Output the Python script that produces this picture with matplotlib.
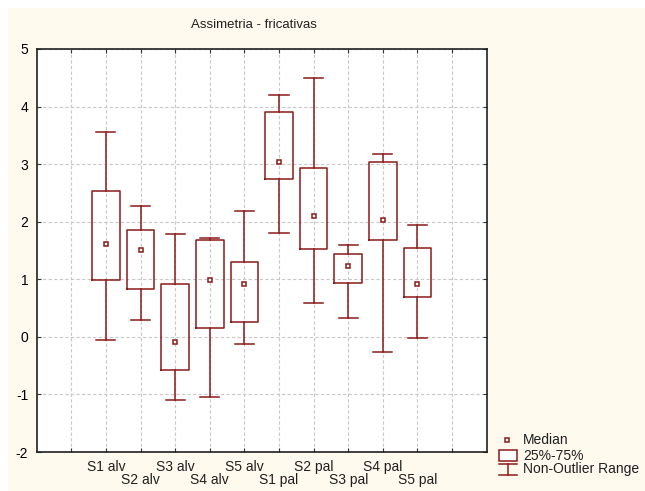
import matplotlib
matplotlib.use('Agg')
import matplotlib.pyplot as plt
from matplotlib.patches import Rectangle
from matplotlib.lines import Line2D

plt.rcParams['font.family'] = ['Liberation Sans', 'DejaVu Sans']
plt.rcParams['axes.unicode_minus'] = False

# values
labels = ['S1 alv', 'S2 alv', 'S3 alv', 'S4 alv', 'S5 alv',
          'S1 pal', 'S2 pal', 'S3 pal', 'S4 pal', 'S5 pal']
medians = [1.62, 1.51, -0.09, 0.99, 0.92, 3.03, 2.10, 1.23, 2.03, 0.92]
q1 = [0.98, 0.83, -0.58, 0.15, 0.25, 2.74, 1.52, 0.94, 1.68, 0.69]
q3 = [2.53, 1.86, 0.92, 1.69, 1.30, 3.91, 2.94, 1.44, 3.04, 1.54]
whis_lo = [-0.05, 0.29, -1.09, -1.04, -0.13, 1.80, 0.59, 0.33, -0.27, -0.02]
whis_hi = [3.56, 2.28, 1.78, 1.71, 2.19, 4.20, 4.50, 1.60, 3.18, 1.95]

RED = '#8B1A1A'
W, H = 645, 491

fig = plt.figure(figsize=(6.45, 4.91), dpi=100, facecolor='white')


def fx(px):
    return px / W


def fy(py):
    return 1 - py / H


# cream panel
fig.patches.append(Rectangle((fx(8), 0), 1 - fx(8), fy(8), transform=fig.transFigure,
                             facecolor='#FFF9EE', edgecolor='none', zorder=-10))

ax = fig.add_axes([fx(36.7), fy(452), fx(486.7) - fx(36.7), fy(49) - fy(452)])
ax.set_facecolor('white')

positions = list(range(2, 2 + len(labels)))
stats = []
for i in range(len(labels)):
    stats.append({'med': medians[i], 'q1': q1[i], 'q3': q3[i],
                  'whislo': whis_lo[i], 'whishi': whis_hi[i], 'fliers': []})

ax.bxp(stats, positions=positions, widths=0.8, capwidths=0.55, showfliers=False,
       boxprops=dict(color=RED, linewidth=1.1),
       whiskerprops=dict(color=RED, linewidth=1.1),
       capprops=dict(color=RED, linewidth=1.1),
       medianprops=dict(linewidth=0), manage_ticks=False, zorder=3)
ax.plot(positions, medians, linestyle='none', marker='s', markersize=3.5,
        markerfacecolor='white', markeredgecolor=RED, markeredgewidth=1.1, zorder=4)

ax.set_xlim(0, 13)
ax.set_ylim(-2, 5)
ax.set_yticks(range(-2, 6))
ax.set_xticks(range(1, 13), minor=False)
ax.set_xticklabels([''] * 12)
ax.grid(True, linestyle=(0, (3, 2)), color='#C8C8C8', linewidth=0.8)
ax.set_axisbelow(True)
ax.tick_params(direction='in', length=3, top=True, right=True, labelsize=10,
               color='#333333', pad=6)
for s in ax.spines.values():
    s.set_linewidth(1.2)
    s.set_color('#202020')

# staggered category labels
for i, (p, lab) in enumerate(zip(positions, labels)):
    yoff = -0.26 if i % 2 == 0 else -0.49
    ax.text(p, -2 + yoff, lab, ha='center', va='center', fontsize=10,
            color='#202020', clip_on=False)

fig.text(fx(254), fy(25), 'Assimetria - fricativas', ha='center', va='center',
         fontsize=9.5, color='#202020')

# legend
fig.lines.append(Line2D([fx(507)], [fy(440)], marker='s', markersize=3.5,
                        markerfacecolor='white', markeredgecolor=RED,
                        markeredgewidth=1.1, transform=fig.transFigure))
fig.text(fx(523), fy(440), 'Median', va='center', fontsize=10, color='#202020')
fig.patches.append(Rectangle((fx(499), fy(461)), fx(18), fy(450) - fy(461),
                             transform=fig.transFigure, facecolor='white',
                             edgecolor=RED, linewidth=1.1))
fig.text(fx(523), fy(455.5), '25%-75%', va='center', fontsize=10, color='#202020')
for seg in [([fx(499), fx(517)], [fy(464), fy(464)]),
            ([fx(508), fx(508)], [fy(464), fy(475)]),
            ([fx(499), fx(517)], [fy(475), fy(475)])]:
    fig.lines.append(Line2D(seg[0], seg[1], color=RED, linewidth=1.1,
                            transform=fig.transFigure))
fig.text(fx(523), fy(469.5), 'Non-Outlier Range', va='center', fontsize=10,
         color='#202020')

fig.savefig('out.png', dpi=100, facecolor=fig.get_facecolor())
